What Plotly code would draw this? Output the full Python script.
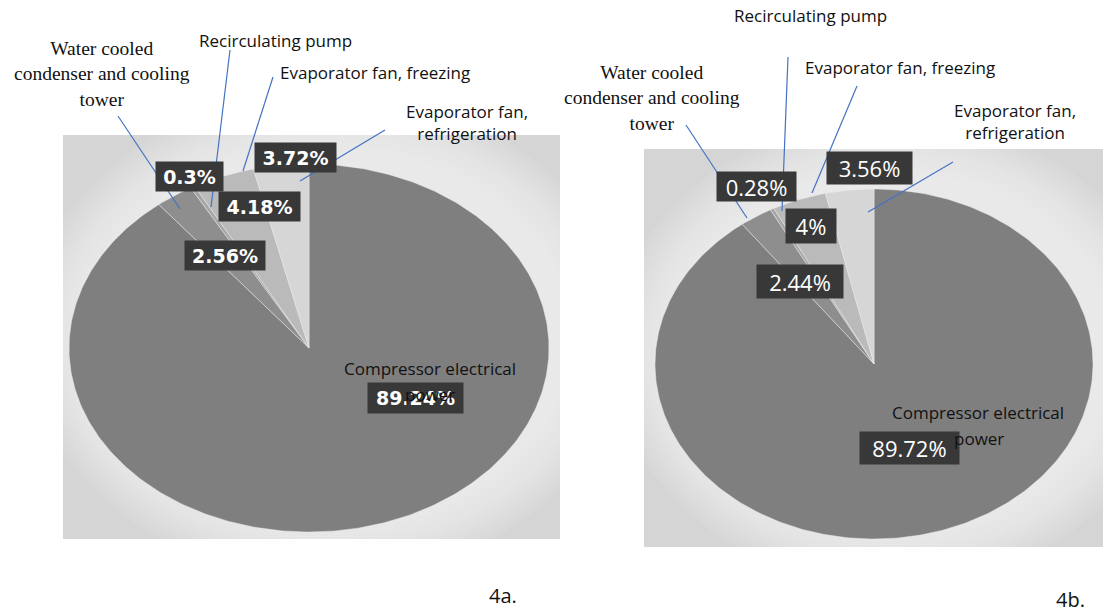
import numpy as np
import plotly.graph_objects as go

# ---------------- data ----------------
categories = ["Compressor electrical power",
              "Water cooled condenser and cooling tower",
              "Recirculating pump",
              "Evaporator fan, freezing",
              "Evaporator fan, refrigeration"]
values_4a = [89.24, 2.56, 0.30, 4.18, 3.72]
values_4b = [89.72, 2.44, 0.28, 4.00, 3.56]
panel_titles = ["4a.", "4b."]

slice_colors = ["#7f7f7f", "#8e8e8e", "#a6a6a6", "#bababa", "#d6d6d6"]

W, H = 1103, 613
fig = go.Figure()

# panel geometry (pixels): background box and ellipse
panels = [
    dict(values=values_4a, box=(63, 135, 560, 539), c=(309, 348), r=(240, 184)),
    dict(values=values_4b, box=(644, 149, 1103, 547), c=(874, 364), r=(219, 175)),
]

shapes = []
for p in panels:
    x0, y0, x1, y1 = p["box"]
    shapes.append(dict(type="rect", xref="x", yref="y", x0=x0, y0=y0, x1=x1, y1=y1,
                       fillcolor="#d5d5d5", line=dict(width=0), layer="below"))
    cx, cy = p["c"]
    rx, ry = p["r"]
    # soft glow behind the pie (many faint layers for a smooth gradient)
    for k in range(12):
        grow = 60 - 5 * k
        shapes.append(dict(type="circle", xref="x", yref="y",
                           x0=cx - rx - grow + 18, x1=cx + rx + grow + 18,
                           y0=cy - ry - grow - 12, y1=cy + ry + grow - 12,
                           fillcolor="rgba(255,255,255,0.07)", line=dict(width=0),
                           layer="below"))
for p in panels:
    x0, y0, x1, y1 = p["box"]
    # white page outside the box
    for (a0, b0, a1, b1) in [(x0 - 80, 0, x1 + 80, y0), (x0 - 80, y1, x1 + 80, H),
                             (x0 - 80, y0, x0, y1), (x1, y0, x1 + 80, y1)]:
        shapes.append(dict(type="rect", xref="x", yref="y", x0=a0, y0=b0, x1=a1, y1=b1,
                           fillcolor="white", line=dict(width=0), layer="below"))

for p in panels:
    cx, cy = p["c"]
    rx, ry = p["r"]
    vals = np.array(p["values"], dtype=float)
    frac = np.concatenate([[0], np.cumsum(vals) / vals.sum()])
    for i, cat in enumerate(categories):
        t = np.linspace(frac[i], frac[i + 1], max(4, int(400 * (frac[i + 1] - frac[i])) + 2)) * 2 * np.pi
        xs = np.concatenate([[cx], cx + rx * np.sin(t), [cx]])
        ys = np.concatenate([[cy], cy - ry * np.cos(t), [cy]])
        fig.add_trace(go.Scatter(x=xs, y=ys, mode="lines", fill="toself",
                                 fillcolor=slice_colors[i],
                                 line=dict(color="rgba(235,235,235,0.6)", width=0.8),
                                 name=cat, hoverinfo="name", showlegend=False))

# leader lines
leaders = [
    ((118, 116), (180, 209)), ((230, 50), (211, 207)), ((273, 77), (243, 171)), ((385, 130), (300, 181)),
    ((686, 125), (747, 218)), ((788, 57), (782, 211)), ((857, 86), (812, 193)), ((953, 162), (868, 212)),
]
for (a, b) in leaders:
    shapes.append(dict(type="line", xref="x", yref="y", x0=a[0], y0=a[1], x1=b[0], y1=b[1],
                       line=dict(color="#4472c4", width=1.2)))

annotations = []

def txt(x, y, s, size=17, family="Open Sans", color="#111111"):
    annotations.append(dict(x=x, y=y, xref="x", yref="y", text=s, showarrow=False,
                            font=dict(family=family, size=size, color=color),
                            xanchor="center", yanchor="middle", align="center"))

def box(x, y, s, w, h, bold):
    annotations.append(dict(x=x, y=y, xref="x", yref="y",
                            text=("<b>%s</b>" % s) if bold else s, showarrow=False,
                            font=dict(family="DejaVu Sans" if bold else "Open Sans",
                                      size=19 if bold else 22, color="white"),
                            bgcolor="#383838", width=w - 4, height=h - 4, borderpad=2,
                            xanchor="center", yanchor="middle", align="center"))

def pct(v):
    return ("%g" % v) + "%"

pos_a = [(415.5, 398, 95, 30), (225, 255.5, 80, 29), (189.5, 176.5, 67, 29),
         (259.5, 206.5, 81, 29), (295.5, 157.5, 81, 29)]
pos_b = [(909.5, 448, 99, 32), (800, 281.5, 86, 33), (756.5, 186.5, 79, 29),
         (811, 226, 50, 34), (869.5, 168, 85, 32)]

# category text labels
txt(102, 73.5, "Water cooled<br>condenser and cooling<br>tower", size=19.5, family="Liberation Serif")
txt(275.5, 40, "Recirculating pump")
txt(375, 72, "Evaporator fan, freezing")
txt(467, 122, "Evaporator fan,<br>refrigeration")

txt(652, 98, "Water cooled<br>condenser and cooling<br>tower", size=19.5, family="Liberation Serif")
txt(810, 15, "Recirculating pump")
txt(900, 67, "Evaporator fan, freezing")
txt(1015, 121.5, "Evaporator fan,<br>refrigeration")

txt(430, 368, "Compressor electrical")
txt(978, 412, "Compressor electrical")

for v, (x, y, w, h) in zip(values_4a, pos_a):
    box(x, y, pct(v), w, h, True)
for v, (x, y, w, h) in zip(values_4b, pos_b):
    box(x, y, pct(v), w, h, False)

txt(430, 394, "power")
txt(979, 438, "power")

txt(503, 595, panel_titles[0], size=20)
txt(1070, 599, panel_titles[1], size=20)

fig.update_layout(
    width=W, height=H, margin=dict(l=0, r=0, t=0, b=0),
    paper_bgcolor="white", plot_bgcolor="white",
    xaxis=dict(range=[0, W], visible=False, fixedrange=True),
    yaxis=dict(range=[H, 0], visible=False, fixedrange=True),
    shapes=shapes, annotations=annotations, showlegend=False,
)
fig.write_html("out.html")
